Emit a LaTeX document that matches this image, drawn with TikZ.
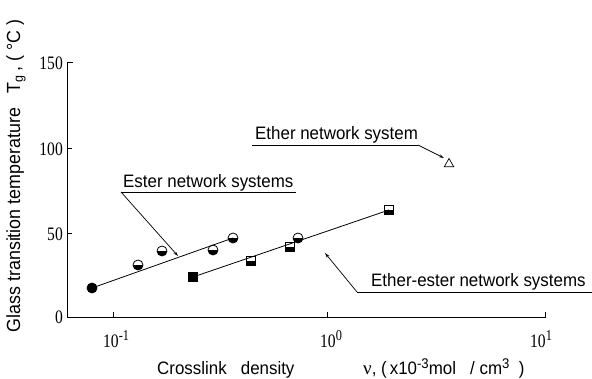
\documentclass[tikz,border=0pt]{standalone}
\usepackage{fontspec}
\setmainfont{Liberation Sans}[FakeStretch=0.94]
\newfontfamily\numfont{Liberation Serif}[FakeStretch=0.82]
\newfontfamily\greekfont{Liberation Serif}
\usetikzlibrary{arrows.meta,shapes.geometric}
\tikzset{
  lbl/.style={font=\fontsize{18}{20}\selectfont, inner sep=0pt},
  tnum/.style={font=\numfont\fontsize{19}{20}\selectfont, inner sep=0pt},
  axisline/.style={line width=1pt},
  fitline/.style={line width=0.8pt},
  ptr/.style={line width=0.7pt, -{Stealth[length=5pt,width=3pt]}},
  uline/.style={line width=0.8pt},
  mkc/.style={draw, circle, line width=0.8pt, minimum size=10pt, inner sep=0pt, fill=white},
  mks/.style={draw, rectangle, line width=0.8pt, minimum size=9pt, inner sep=0pt, fill=white},
  full/.style={fill=black},
  half/.style={path picture={\fill[black, rotate around={#1:(path picture bounding box.center)}]
      (path picture bounding box.center) ++(-8,0) rectangle ++(16,8);}},
  mkt/.style={draw, regular polygon, regular polygon sides=3, line width=0.7pt, minimum size=11pt, inner sep=0pt},
}
\newcommand{\tensup}[1]{10\raisebox{7pt}{\fontsize{15}{15}\selectfont #1}}
\begin{document}
\begin{tikzpicture}[x=1pt,y=-1pt]
\useasboundingbox (0,0) rectangle (592,379);
% axes
\coordinate (ytop) at (67,63);
\coordinate (orig) at (67,318);
\coordinate (xend) at (545,318);
\draw[axisline] (ytop) -- (orig) -- (xend) -- ++(0,-6);
\draw[axisline] (ytop) -- ++(6,0);
\draw[axisline] (67,149) -- ++(5,0);
\draw[axisline] (67,234) -- ++(5,0);
\draw[axisline] (113,318) -- ++(0,-6);
\draw[axisline] (327,318) -- ++(0,-6);
% y tick labels
\node[tnum, anchor=east] (y150) at (63,63) {150};
\node[tnum, anchor=east] (y100) at (63,149) {100};
\node[tnum, anchor=east] (y50) at (63,234) {50};
\node[tnum, anchor=east] (y0) at (63,317) {0};
% x tick labels
\node[tnum, anchor=base west] (xm1) at (103,348) {\tensup{-1}};
\node[tnum, anchor=base west] (x0) at (320,348) {\tensup{0}};
\node[tnum, anchor=base west] (x1) at (530,348) {\tensup{1}};
% axis titles
\node[lbl, anchor=base west] (xt1) at (157,375) {Crosslink\ \ \ density};
\node[lbl, anchor=base west] (xt2) at (363,375) {{\greekfont\fontsize{19}{20}\selectfont ν}, (\,x10\raisebox{6pt}{\fontsize{14}{14}\selectfont -3}mol\ \ \ / cm\raisebox{6pt}{\fontsize{14}{14}\selectfont 3}\ \ )};
\node[lbl, font=\fontsize{19}{20}\selectfont, rotate=90] (yt) at (16,176) {Glass transition temperature\ \ \ T\textsubscript{g}\,, ( \textdegree C )};
% ester series
\node[mkc, full] (e1) at (92,288) {};
\node[mkc, half=0] (e2) at (138,265) {};
\node[mkc, half=180] (e3) at (162,251) {};
\node[mkc, half=90] (e4) at (213,250) {};
\node[mkc, half=270] (e5) at (233,238) {};
\draw[fitline] (e1.center) -- (e5.center);
% ether-ester series
\node[mks, full] (s1) at (193,277) {};
\node[mks, half=0] (s2) at (251,261) {};
\node[mks, half=0] (s3) at (290,247) {};
\node[mkc, half=90] (c6) at (298,238) {};
\node[mks, half=270] (s4) at (389,210) {};
\draw[fitline] (s1.center) -- (s4.center);
% ether
\node[mkt] (t1) at (449,164) {};
% labels
\node[lbl, anchor=base west] (Lester) at (123,188) {Ester\ network\ systems};
\coordinate (ue1) at (121,192);
\coordinate (ue2) at (296,192);
\coordinate (ae) at (178,256);
\draw[uline] (ue2) -- (ue1);
\draw[ptr] (ue1) -- (ae);
\node[lbl, anchor=base west] (Lether) at (255,140) {Ether\ network\ system};
\coordinate (uh1) at (252,145);
\coordinate (uh2) at (418,145);
\coordinate (ah) at (444,158);
\draw[uline] (uh1) -- (uh2);
\draw[ptr] (uh2) -- (ah);
\node[lbl, anchor=base west] (Lee) at (371,287) {Ether-ester\ network\ systems};
\coordinate (ux1) at (357,292);
\coordinate (ux2) at (592,292);
\coordinate (ax) at (325,253);
\draw[uline] (ux2) -- (ux1);
\draw[ptr] (ux1) -- (ax);
\end{tikzpicture}
\end{document}
